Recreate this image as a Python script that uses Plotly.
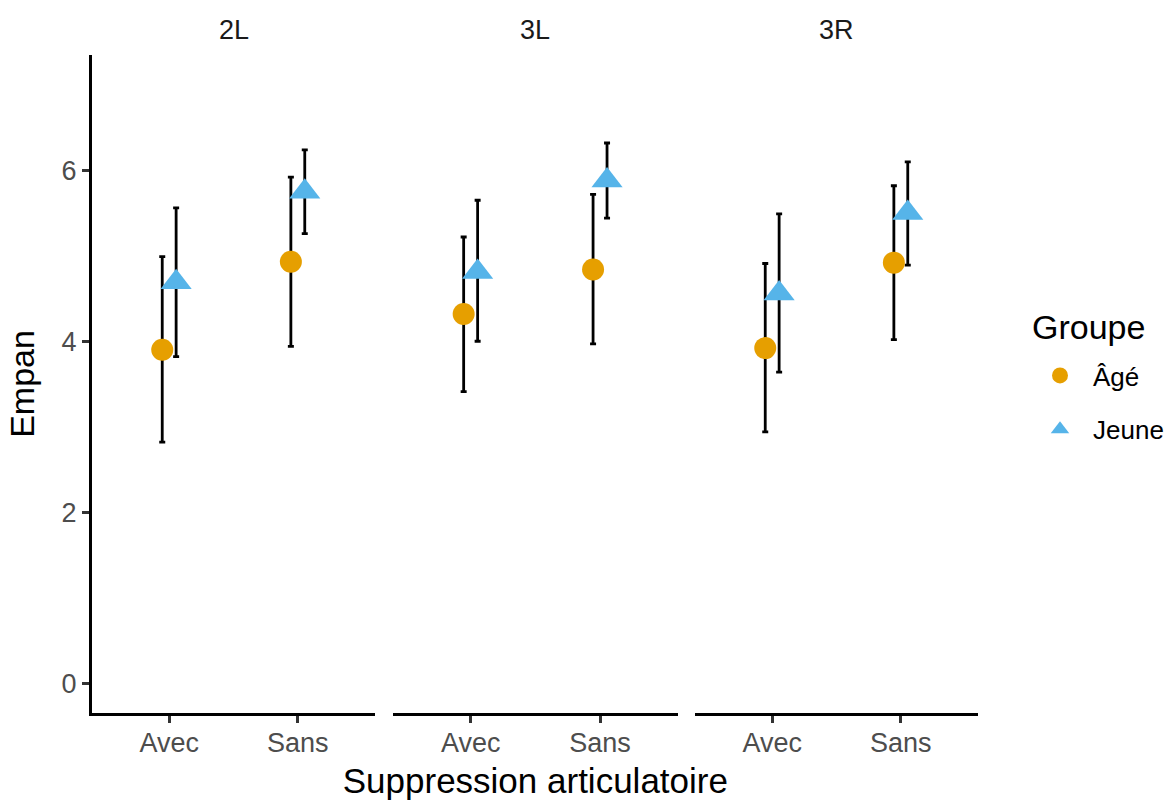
import plotly.graph_objects as go
from plotly.subplots import make_subplots

# ---- data ----
panels = ["2L", "3L", "3R"]
conditions = ["Avec", "Sans"]
groups = ["Âgé", "Jeune"]

# order: (2L Avec, 2L Sans, 3L Avec, 3L Sans, 3R Avec, 3R Sans)
age_mean = [3.90, 4.93, 4.32, 4.84, 3.92, 4.92]
age_low = [2.82, 3.94, 3.41, 3.97, 2.94, 4.02]
age_high = [4.99, 5.92, 5.22, 5.72, 4.91, 5.82]

young_mean = [4.69, 5.75, 4.81, 5.88, 4.56, 5.50]
young_low = [3.82, 5.26, 4.00, 5.44, 3.64, 4.89]
young_high = [5.56, 6.24, 5.65, 6.32, 5.49, 6.10]

y_ticks = [0, 2, 4, 6]
y_range = [-0.35, 7.35]

colors = {"Âgé": "#E69F00", "Jeune": "#56B4E9"}
symbols = {"Âgé": "circle", "Jeune": "triangle-up"}
dodge = {"Âgé": -0.054, "Jeune": 0.054}
series = {
    "Âgé": (age_mean, age_low, age_high),
    "Jeune": (young_mean, young_low, young_high),
}

FONT = "Arial, Liberation Sans, sans-serif"

fig = make_subplots(rows=1, cols=3, shared_yaxes=False, horizontal_spacing=0.02)

W, H = 1171, 800
ml, mr, mt, mb = 92, 193, 55, 87
pw = W - ml - mr
doms = [(0, 283 / pw), (301 / pw, 585.7 / pw), (603 / pw, 1.0)]

# error bars first (below all points)
for g in groups:
    m, lo, hi = series[g]
    for pi, p in enumerate(panels):
        xs = [ci + 1 + dodge[g] for ci in range(len(conditions))]
        ys = [m[pi * 2 + ci] for ci in range(2)]
        up = [hi[pi * 2 + ci] - m[pi * 2 + ci] for ci in range(2)]
        dn = [m[pi * 2 + ci] - lo[pi * 2 + ci] for ci in range(2)]
        fig.add_trace(go.Scatter(
            x=xs, y=ys, mode="markers",
            marker=dict(opacity=0, size=1),
            error_y=dict(type="data", symmetric=False, array=up, arrayminus=dn,
                         color="black", thickness=2.8, width=3),
            showlegend=False, hoverinfo="skip"),
            row=1, col=pi + 1)

# points
for g in groups:
    m, lo, hi = series[g]
    for pi, p in enumerate(panels):
        xs = [ci + 1 + dodge[g] for ci in range(len(conditions))]
        ys = [m[pi * 2 + ci] for ci in range(2)]
        fig.add_trace(go.Scatter(
            x=xs, y=ys, mode="markers", name=g,
            legendgroup=g, showlegend=(pi == 0),
            marker=dict(color=colors[g], symbol=symbols[g],
                        size=22 if g == "Âgé" else 27,
                        line=dict(width=0))),
            row=1, col=pi + 1)

for i in range(3):
    xa = "xaxis" if i == 0 else f"xaxis{i+1}"
    ya = "yaxis" if i == 0 else f"yaxis{i+1}"
    fig.layout[xa].update(
        domain=list(doms[i]), range=[0.4, 2.6], automargin=False,
        tickvals=[1, 2], ticktext=conditions,
        showline=True, linecolor="black", linewidth=3,
        ticks="outside", ticklen=7, tickwidth=2.5, tickcolor="#333333",
        ticklabelstandoff=-3,
        tickfont=dict(family=FONT, size=27, color="#4D4D4D"),
        showgrid=False, zeroline=False, fixedrange=True,
    )
    fig.layout[ya].update(
        range=y_range, showgrid=False, zeroline=False, fixedrange=True,
        automargin=False,
    )
    if i == 0:
        fig.layout[ya].update(
            tickvals=y_ticks, ticktext=[str(v) for v in y_ticks],
            showline=True, linecolor="black", linewidth=3,
            ticks="outside", ticklen=7, tickwidth=2.5, tickcolor="#333333",
            tickfont=dict(family=FONT, size=27, color="#4D4D4D"),
            title=dict(text="Empan", font=dict(family=FONT, size=34, color="black"),
                       standoff=17),
        )
    else:
        fig.layout[ya].update(matches="y", showline=False, showticklabels=False,
                              ticks="")
    # facet label
    fig.add_annotation(
        x=(doms[i][0] + doms[i][1]) / 2, y=1, xref="paper", yref="paper",
        yshift=25, text=panels[i], showarrow=False,
        font=dict(family=FONT, size=27, color="#1A1A1A"),
        xanchor="center", yanchor="middle",
    )

fig.layout.xaxis2.update(
    title=dict(text="Suppression articulatoire",
               font=dict(family=FONT, size=35, color="black"), standoff=14))

# legend title
fig.add_annotation(
    xref="paper", yref="paper",
    x=(1030 - ml) / pw, y=(H - mb - 327) / (H - mt - mb),
    text="Groupe", showarrow=False, xanchor="left", yanchor="middle",
    font=dict(family=FONT, size=34, color="black"),
)

fig.update_layout(
    width=W, height=H,
    margin=dict(l=ml, r=mr, t=mt, b=mb, autoexpand=False),
    plot_bgcolor="white", paper_bgcolor="white",
    font=dict(family=FONT),
    legend=dict(
        font=dict(family=FONT, size=26, color="black"),
        xref="container", yref="container",
        x=1027 / W, xanchor="left",
        y=1 - 352 / H, yanchor="top",
        tracegroupgap=17, itemwidth=56, bgcolor="rgba(0,0,0,0)",
    ),
)

fig.write_html(
    "out.html",
    config={"displayModeBar": False},
    post_script="document.body.style.margin='0px';document.body.style.overflow='hidden';",
)
